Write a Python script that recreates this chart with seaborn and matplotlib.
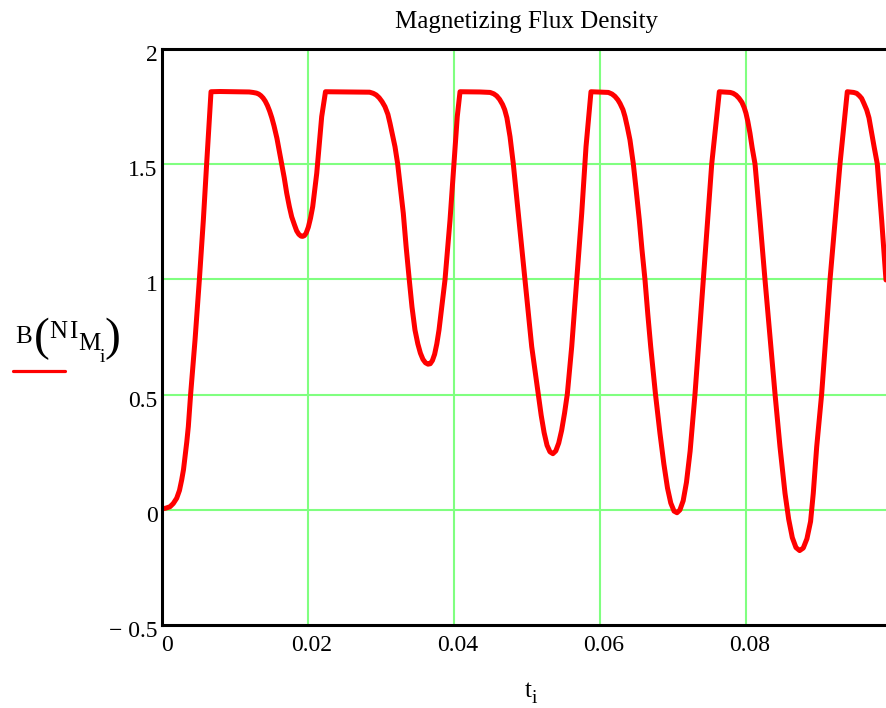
import matplotlib
matplotlib.use("Agg")
import matplotlib.pyplot as plt
from matplotlib.lines import Line2D
from matplotlib.transforms import ScaledTranslation
import seaborn as sns
import pandas as pd

# Sampled time instants t_i (s) and flux density B (T)
t_values = [
    # initial magnetization
    0.0000, 0.00030, 0.00060, 0.00115, 0.00160, 0.00207, 0.00245, 0.00275,
    0.00300, 0.00321, 0.00345, 0.00366, 0.00398, 0.00458, 0.00517, 0.00572,
    0.00617, 0.00677,
    # first plateau and dip
    0.00800, 0.01000, 0.01200, 0.01250, 0.01300, 0.01330, 0.01360, 0.01390,
    0.01420, 0.01450, 0.01480, 0.01510, 0.01540, 0.01580, 0.01645, 0.01680,
    0.01714, 0.01750, 0.01782, 0.01820, 0.01850, 0.01880, 0.01910, 0.01932,
    0.01955, 0.01980, 0.02010, 0.02040, 0.02070, 0.02125, 0.02193, 0.02245,
    # second plateau and dip
    0.02536, 0.02850, 0.02900, 0.02940, 0.02980, 0.03020, 0.03060, 0.03100,
    0.03129, 0.03160, 0.03197, 0.03234, 0.03270, 0.03311, 0.03350, 0.03393,
    0.03430, 0.03471, 0.03510, 0.03545, 0.03580, 0.03615, 0.03650, 0.03680,
    0.03710, 0.03740, 0.03770, 0.03800, 0.03882, 0.03951, 0.04005, 0.04050,
    0.04088,
    # third plateau and dip
    0.04360, 0.04500, 0.04550, 0.04590, 0.04630, 0.04670, 0.04700, 0.04730,
    0.04773, 0.04818, 0.04886, 0.04978, 0.05070, 0.05160, 0.05200, 0.05240,
    0.05280, 0.05320, 0.05360, 0.05400, 0.05440, 0.05480, 0.05520, 0.05558,
    0.05618, 0.05686, 0.05755, 0.05814, 0.05882,
    # fourth plateau and dip
    0.06120, 0.06170, 0.06210, 0.06250, 0.06280, 0.06320, 0.06348, 0.06380,
    0.06416, 0.06462, 0.06500, 0.06544, 0.06580, 0.06622, 0.06660, 0.06700,
    0.06765, 0.06827, 0.06880, 0.06930, 0.06975, 0.07020, 0.07060, 0.07100,
    0.07145, 0.07190, 0.07240, 0.07307, 0.07420, 0.07536, 0.07640,
    # fifth plateau and dip
    0.07790, 0.07830, 0.07870, 0.07910, 0.07950, 0.07980, 0.08005, 0.08030,
    0.08060, 0.08090, 0.08129, 0.08197, 0.08266, 0.08334, 0.08403, 0.08471,
    0.08540, 0.08590, 0.08640, 0.08690, 0.08740, 0.08790, 0.08840, 0.08890,
    0.08927, 0.08974, 0.09042, 0.09156, 0.09293, 0.09393,
    # sixth plateau
    0.09480, 0.09522, 0.09560, 0.09590, 0.09620, 0.09659, 0.09690, 0.09727,
    0.09760, 0.09804, 0.09864, 0.09923,
]
b_values = [
    0.005, 0.006, 0.008, 0.014, 0.028, 0.051, 0.085, 0.130,
    0.175, 0.231, 0.295, 0.361, 0.503, 0.737, 0.997, 1.257,
    1.500, 1.813,
    1.814, 1.813, 1.812, 1.810, 1.807, 1.803, 1.796, 1.786,
    1.772, 1.753, 1.729, 1.700, 1.665, 1.611, 1.500, 1.440,
    1.373, 1.315, 1.271, 1.236, 1.210, 1.195, 1.187, 1.186,
    1.189, 1.200, 1.226, 1.265, 1.315, 1.459, 1.705, 1.813,
    1.812, 1.811, 1.806, 1.799, 1.787, 1.770, 1.748, 1.715,
    1.676, 1.630, 1.575, 1.500, 1.400, 1.286, 1.140, 0.997,
    0.880, 0.780, 0.720, 0.680, 0.653, 0.638, 0.632, 0.634,
    0.648, 0.675, 0.720, 0.780, 0.997, 1.257, 1.500, 1.705,
    1.813,
    1.812, 1.810, 1.804, 1.795, 1.780, 1.758, 1.735, 1.700,
    1.618, 1.500, 1.286, 0.997, 0.708, 0.503, 0.410, 0.335,
    0.280, 0.252, 0.244, 0.256, 0.290, 0.345, 0.420, 0.503,
    0.708, 0.997, 1.286, 1.575, 1.813,
    1.810, 1.803, 1.793, 1.778, 1.762, 1.735, 1.705, 1.660,
    1.604, 1.500, 1.390, 1.257, 1.130, 0.997, 0.850, 0.708,
    0.503, 0.332, 0.200, 0.095, 0.030, -0.005, -0.012, 0.000,
    0.040, 0.120, 0.255, 0.503, 0.997, 1.500, 1.813,
    1.810, 1.806, 1.798, 1.785, 1.767, 1.745, 1.720, 1.685,
    1.633, 1.570, 1.500, 1.257, 0.997, 0.751, 0.503, 0.274,
    0.072, -0.040, -0.120, -0.163, -0.176, -0.165, -0.125, -0.050,
    0.072, 0.274, 0.503, 0.997, 1.500, 1.813,
    1.810, 1.806, 1.795, 1.784, 1.763, 1.734, 1.700, 1.633,
    1.575, 1.500, 1.257, 0.997,
]

x_ticks = [0, 0.02, 0.04, 0.06, 0.08]
x_tick_labels = ["0", "0.02", "0.04", "0.06", "0.08"]
y_ticks = [-0.5, 0, 0.5, 1, 1.5, 2]
y_tick_labels = ["\u2212 0.5", "0", "0.5", "1", "1.5", "2"]

df = pd.DataFrame({"t": t_values, "B": b_values})

sns.set_style("white")
plt.rcParams["font.family"] = ["Liberation Serif", "DejaVu Serif"]
plt.rcParams["text.color"] = "black"
plt.rcParams["xtick.color"] = "black"
plt.rcParams["ytick.color"] = "black"
plt.rcParams["axes.labelcolor"] = "black"

W, H = 886, 708
fig = plt.figure(figsize=(W / 100, H / 100), dpi=100)

x0_px, x1_px = 161.6, 891.6
y_top_px, y_bot_px = 48.6, 625.3
ax = fig.add_axes([x0_px / W, 1 - y_bot_px / H,
                   (x1_px - x0_px) / W, (y_bot_px - y_top_px) / H])

grid_green = "#80ff80"
for xv in [0.02, 0.04, 0.06, 0.08]:
    ax.axvline(xv, color=grid_green, lw=1.5, zorder=1)
for yv in [0, 0.5, 1, 1.5]:
    ax.axhline(yv, color=grid_green, lw=1.5, zorder=1)

sns.lineplot(data=df, x="t", y="B", ax=ax, color="#ff0000", lw=3.6,
             sort=False, estimator=None, zorder=3, legend=False)
for ln in ax.get_lines():
    ln.set_solid_joinstyle("round")

ax.set_xlim(0, 0.1)
ax.set_ylim(-0.5, 2)
ax.set_xlabel("")
ax.set_ylabel("")

ax.set_xticks(x_ticks)
ax.set_xticklabels(x_tick_labels, fontsize=17, color="black")
ax.set_yticks(y_ticks)
ax.set_yticklabels(y_tick_labels, fontsize=17, color="black")
ax.tick_params(axis="both", length=0)
ax.tick_params(axis="x", pad=7)
ax.tick_params(axis="y", pad=3)

for i, lab in enumerate(ax.get_xticklabels()):
    if i == 0:
        lab.set_horizontalalignment("left")
    else:
        lab.set_transform(lab.get_transform() +
                          ScaledTranslation(0.04, 0, fig.dpi_scale_trans))
for lab in ax.get_yticklabels():
    lab.set_transform(lab.get_transform() +
                      ScaledTranslation(0, -0.04, fig.dpi_scale_trans))

for side in ["left", "top", "bottom", "right"]:
    ax.spines[side].set_color("black")
    ax.spines[side].set_linewidth(2.2)
    ax.spines[side].set_zorder(4)

ax.set_title("Magnetizing Flux Density", fontsize=18, pad=14.6,
             color="black")


def fx(px):
    return px / W


def fy(py):
    return 1 - py / H


# Axis label t_i
fig.text(fx(525), fy(697), "t", fontsize=18, va="baseline", ha="left")
fig.text(fx(532), fy(703), "i", fontsize=14, va="baseline", ha="left")

# Axis label B(N I_{M_i}) with its legend stroke
fig.text(fx(15.5), fy(343), "B", fontsize=18, va="baseline", ha="left")
fig.text(fx(33.5), fy(350), "(", fontsize=34, va="baseline", ha="left")
fig.text(fx(49), fy(338), "N", fontsize=18, va="baseline", ha="left")
fig.text(fx(69.5), fy(338), "I", fontsize=18, va="baseline", ha="left")
fig.text(fx(78), fy(350), "M", fontsize=18, va="baseline", ha="left")
fig.text(fx(99.5), fy(362), "i", fontsize=14, va="baseline", ha="left")
fig.text(fx(104), fy(350), ")", fontsize=34, va="baseline", ha="left")
fig.add_artist(Line2D([fx(12.7), fx(65)], [fy(371), fy(371)],
                      color="#ff0000", lw=2.3, solid_capstyle="round"))

fig.savefig("out.png", dpi=100)
